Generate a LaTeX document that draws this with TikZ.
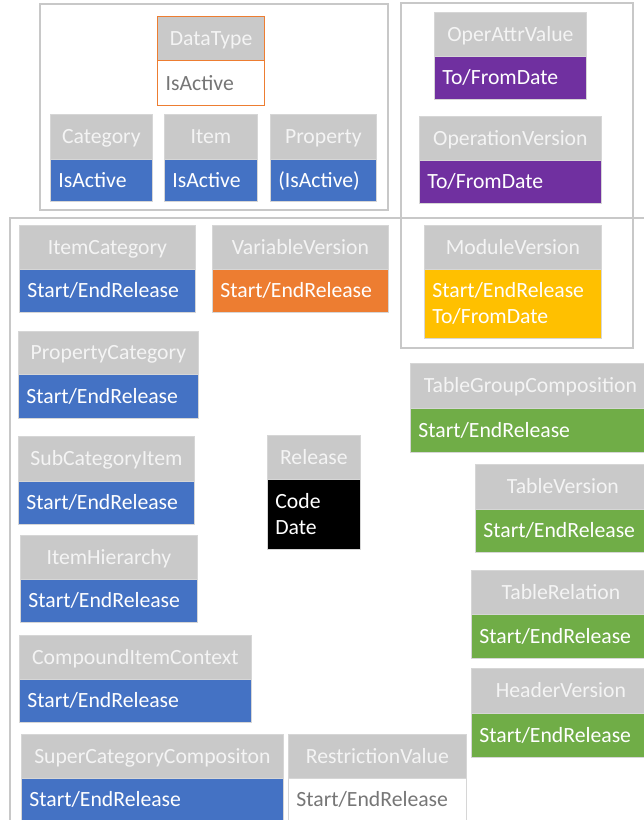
\documentclass[tikz,border=0pt]{standalone}
\usepackage{fontspec}
\setmainfont{Carlito}
\definecolor{hdrgray}{RGB}{201,201,201}
\definecolor{hdrtxt}{RGB}{244,244,244}
\definecolor{edge}{RGB}{214,214,214}
\definecolor{framec}{RGB}{200,200,200}
\definecolor{cblue}{RGB}{68,114,196}
\definecolor{corange}{RGB}{237,125,49}
\definecolor{cpurple}{RGB}{112,48,160}
\definecolor{cgold}{RGB}{255,192,0}
\definecolor{cgreen}{RGB}{112,173,71}
\definecolor{ctext}{RGB}{118,118,118}
\tikzset{
  box/.style={rectangle, draw=edge, line width=0.8pt, anchor=north west, inner ysep=0pt,
    font=\fontsize{21.7}{26}\selectfont, text height=14pt, text depth=0pt},
  hdr/.style={box, fill=hdrgray, text=hdrtxt, inner xsep=0pt},
  bdy/.style={box, text=white, inner xsep=8pt, align=left},
  twoline/.style={text depth=26pt},
  blueb/.style={fill=cblue},
  orangeb/.style={fill=corange},
  purpleb/.style={fill=cpurple},
  goldb/.style={fill=cgold},
  greenb/.style={fill=cgreen},
  blackb/.style={fill=black},
  whiteb/.style={fill=white, text=ctext},
  framebox/.style={draw=framec, line width=1.3pt},
}
\newcommand\ent[9]{%
  \node[hdr, minimum width={#5-#2}, minimum height={#4-#3}] (#1h) at (#2,#3) {#8};
  \node[bdy, #7, minimum width={#5-#2}, minimum height={#6-#4}, text width={#5-#2-16}] (#1b) at (#2,#4) {#9};
}
\begin{document}
\begin{tikzpicture}[x=1pt,y=-1pt]
\useasboundingbox (0,0) rectangle (644,820);
\clip (0,0) rectangle (644,820);
% frames
\draw[framebox] (40,4) rectangle (388,210);
\draw[framebox] (401,3) rectangle (633,348);
\draw[framebox] (10,830) -- (10,218) -- (660,218);
% DataType
\node[hdr, draw=corange, line width=1.3pt, minimum width=107, minimum height=44] (dth) at (157,16) {DataType};
\node[bdy, whiteb, draw=corange, line width=1.3pt, minimum width=107, minimum height=45, text width=91] (dtb) at (157,60) {IsActive};
\ent{cat}{50}{114}{159}{152}{201}{blueb}{Category}{IsActive}
\ent{itm}{164}{114}{159}{257}{201}{blueb}{Item}{IsActive}
\ent{prp}{270}{114}{159}{376}{201}{blueb}{Property}{(IsActive)}
\ent{oav}{434}{12}{56}{586}{99}{purpleb}{OperAttrValue}{To/FromDate}
\ent{opv}{419}{116}{160}{601}{203}{purpleb}{OperationVersion}{To/FromDate}
\ent{mdv}{424}{225}{269}{601}{338}{goldb,twoline}{ModuleVersion}{Start/EndRelease\\To/FromDate}
\ent{itc}{19}{225}{269}{195}{312}{blueb}{ItemCategory}{Start/EndRelease}
\ent{vav}{212}{225}{269}{388}{312}{orangeb}{VariableVersion}{Start/EndRelease}
\ent{prc}{18}{331}{374}{198}{418}{blueb}{PropertyCategory}{Start/EndRelease}
\ent{sci}{18}{436}{481}{194}{524}{blueb}{SubCategoryItem}{Start/EndRelease}
\ent{rel}{267}{435}{479}{360}{549}{blackb,twoline}{Release}{Code\\Date}
\ent{ihy}{20}{535}{579}{197}{622}{blueb}{ItemHierarchy}{Start/EndRelease}
\ent{cic}{19}{635}{679}{251}{722}{blueb}{CompoundItemContext}{Start/EndRelease}
\ent{scc}{21}{734}{778}{283}{821}{blueb}{SuperCategoryCompositon}{Start/EndRelease}
\ent{rsv}{288}{734}{778}{466}{821}{whiteb}{RestrictionValue}{Start/EndRelease}
\ent{tgc}{410}{363}{408}{650}{452}{greenb}{TableGroupComposition}{Start/EndRelease}
\ent{tbv}{475}{464}{509}{650}{552}{greenb}{TableVersion}{Start/EndRelease}
\ent{tbr}{471}{570}{614}{650}{658}{greenb}{TableRelation}{Start/EndRelease}
\ent{hdv}{471}{668}{713}{650}{757}{greenb}{HeaderVersion}{Start/EndRelease}
\end{tikzpicture}
\end{document}
